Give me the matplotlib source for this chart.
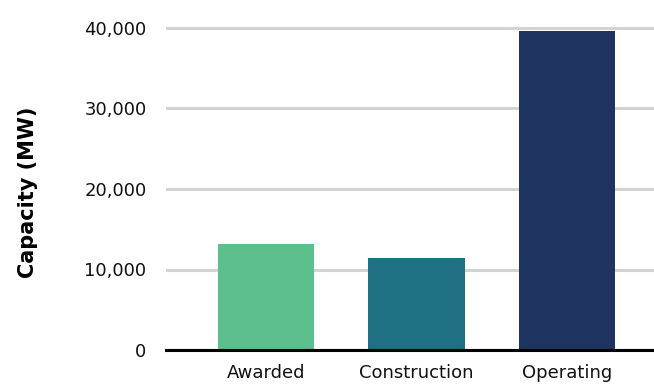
import matplotlib
matplotlib.use("Agg")
import matplotlib.pyplot as plt
from matplotlib.ticker import FuncFormatter

categories = ["Awarded", "Construction", "Operating"]
capacity_mw = [13200, 11450, 39600]
bar_colors = ["#5CBF8D", "#1F7083", "#1F3461"]
y_ticks = [0, 10000, 20000, 30000, 40000]

plt.rcParams['font.family'] = ['DejaVu Sans']

fig = plt.figure(figsize=(6.54, 3.92), dpi=100)
# axes in pixel coords: left 166, right 654, bottom y=350, top y=24
ax = fig.add_axes([166/654, 1-350/392, (654-166)/654, (350-24)/392])

x = list(range(len(categories)))
ax.bar(x, capacity_mw, width=0.64, color=bar_colors, zorder=3)

ymax = 40000 * (350-24) / (350-28)
ax.set_ylim(0, ymax)
ax.set_xlim(-0.664, 2.578)
ax.set_yticks(y_ticks)
ax.yaxis.set_major_formatter(FuncFormatter(lambda v, p: f"{int(v):,}"))
ax.grid(axis='y', color='#D3D3D3', linewidth=2.2, zorder=0)
ax.set_xticks(x)
ax.set_xticklabels(categories)
ax.tick_params(axis='both', length=0, labelsize=13, colors='#111111')
ax.tick_params(axis='y', pad=14)
ax.tick_params(axis='x', pad=10)

for s in ['top', 'right', 'left']:
    ax.spines[s].set_visible(False)
ax.spines['bottom'].set_linewidth(2.2)
ax.spines['bottom'].set_color('black')
ax.spines['bottom'].set_zorder(4)

fig.text(28/654, 1-192/392, "Capacity (MW)", rotation=90, fontsize=15,
         fontweight='bold', ha='center', va='center')

fig.savefig("out.png", dpi=100)
